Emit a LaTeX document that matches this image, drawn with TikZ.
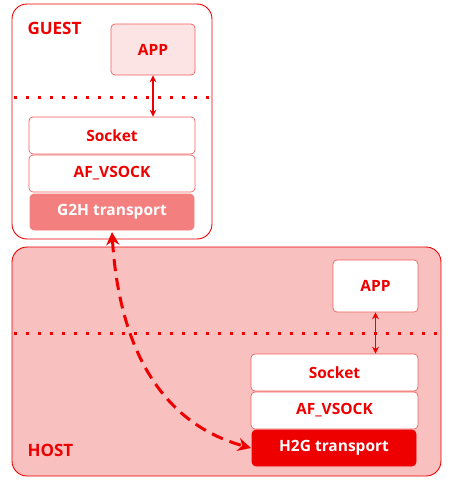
\documentclass[tikz,border=0pt]{standalone}
\usepackage{fontspec}
\setmainfont{Open Sans}
\usetikzlibrary{arrows.meta}
\definecolor{rh}{HTML}{EE0000}
\definecolor{hostfill}{HTML}{F9C0C0}
\definecolor{appfill}{HTML}{FCE4E4}
\definecolor{g2h}{HTML}{F47F7F}
\definecolor{boxline}{HTML}{F06060}
\begin{document}
\begin{tikzpicture}[x=1pt,y=-1pt,
  outer/.style={draw=rh,line width=0.9pt,rounded corners=15pt},
  layer/.style={draw=boxline,line width=0.7pt,rounded corners=4pt,fill=white,text=rh,font=\bfseries\fontsize{15.5}{17}\selectfont},
  dotline/.style={draw=rh,line width=3pt,dash pattern=on 3pt off 9pt},
  dbl/.style={draw=rh,line width=1.4pt,{Stealth[length=7pt,width=7pt]}-{Stealth[length=7pt,width=7pt]}},
  lbl/.style={text=rh,font=\bfseries\fontsize{17}{19}\selectfont,anchor=west}]
\useasboundingbox (0,0) rectangle (451,483);
% guest
\draw[outer,fill=white] (12,4) rectangle (212,239);
\node[lbl] (guestlbl) at (24,28) {GUEST};
\draw[dotline] (14,97) -- (211,97);
\node[layer,fill=appfill,minimum width=84pt,minimum height=51pt] (gapp) at (153,49.5) {APP};
\node[layer,minimum width=166pt,minimum height=37pt] (gsock) at (112,135.5) {Socket};
\node[layer,minimum width=166pt,minimum height=37pt] (gaf) at (112,173.5) {AF\_VSOCK};
\node[layer,draw=g2h,fill=g2h,text=white,minimum width=164pt,minimum height=36pt] (gtr) at (112,212) {G2H transport};
\draw[dbl] (gapp.south) -- (gsock.north -| gapp.south);
% host
\draw[outer,fill=hostfill] (12,247) rectangle (441,476);
\node[lbl] (hostlbl) at (24,450) {HOST};
\draw[dotline] (14,333) -- (440,333);
\node[layer,minimum width=85pt,minimum height=52pt] (happ) at (375.5,286) {APP};
\node[layer,minimum width=167pt,minimum height=37pt] (hsock) at (334.5,372.5) {Socket};
\node[layer,minimum width=167pt,minimum height=37pt] (haf) at (334.5,410.5) {AF\_VSOCK};
\node[layer,draw=rh,fill=rh,text=white,minimum width=164pt,minimum height=36pt] (htr) at (334,448) {H2G transport};
\draw[dbl] (happ.south) -- (hsock.north -| happ.south);
% dashed cross arrow
\coordinate (cs) at (112,232);
\coordinate (ce) at (251,448);
\draw[draw=rh,line width=3pt,dash pattern=on 12pt off 7pt,
  {Stealth[length=13pt,width=13pt,inset=4pt]}-{Stealth[length=13pt,width=13pt,inset=4pt]}]
  (cs) .. controls (118,330) and (150,420) .. (ce);
\end{tikzpicture}
\end{document}
